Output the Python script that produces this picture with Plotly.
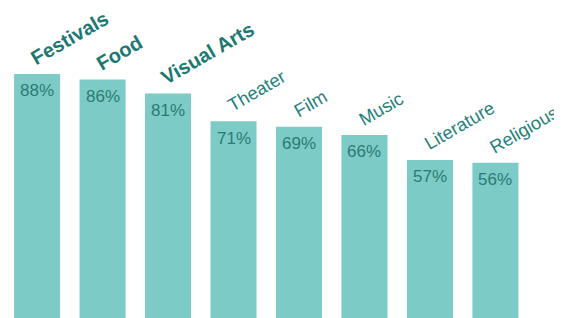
import plotly.graph_objects as go

categories = ["Festivals", "Food", "Visual Arts", "Theater", "Film", "Music", "Literature", "Religious"]
values = [88, 86, 81, 71, 69, 66, 57, 56]
highlight = [True, True, True, False, False, False, False, False]
value_labels = [f"{v}%" for v in values]

BAR = "#7ccbc6"
DARK = "#1d7872"
NORMAL = "#26817b"
PCT = "#2b7b74"
FONT = "Liberation Sans, Arial, sans-serif"

fig = go.Figure()
fig.add_trace(go.Bar(
    x=categories, y=values, marker=dict(color=BAR, line=dict(width=0)),
    width=0.703, hoverinfo="skip", showlegend=False,
))

for cat, v, lab, hi in zip(categories, values, value_labels, highlight):
    # value label inside top of the bar
    fig.add_annotation(
        x=cat, y=v, xref="x", yref="y", text=lab, showarrow=False,
        xanchor="center", yanchor="middle", yshift=-17,
        font=dict(family=FONT, size=17, color=PCT),
    )
    # rotated category label above the bar
    fig.add_annotation(
        x=cat, y=v, xref="x", yref="y",
        text=f"<b>{cat}</b>" if hi else cat, showarrow=False,
        textangle=-30, xanchor="left", yanchor="bottom",
        xshift=-13 if hi else -12, yshift=2 if hi else 3,
        font=dict(family=FONT, size=20 if hi else 18.3, color=DARK if hi else NORMAL),
    )

fig.update_layout(
    width=562, height=318,
    margin=dict(l=0, r=30, t=0, b=8),
    paper_bgcolor="white", plot_bgcolor="white",
    xaxis=dict(visible=False, range=[-0.4445, 7.681], type="category"),
    yaxis=dict(visible=False, range=[0, 111.8]),
)

fig.write_html("out.html")
